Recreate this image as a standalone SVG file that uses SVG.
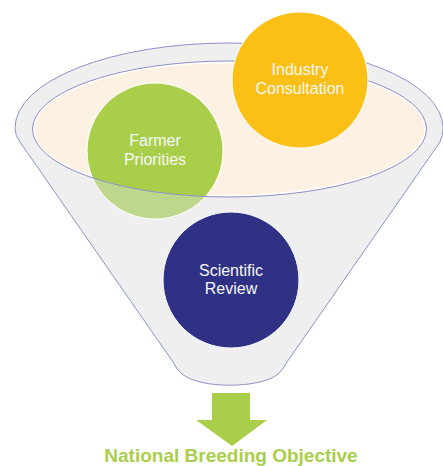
<svg xmlns="http://www.w3.org/2000/svg" width="443" height="466" viewBox="0 0 443 466">
  <style>
    .label { font-family: "Liberation Sans", Arial, sans-serif; font-size: 16px; fill: #F7F7F7; text-anchor: middle; }
    .outcome { font-family: "Liberation Sans", Arial, sans-serif; font-size: 19px; font-weight: bold; fill: #A9CE4A; text-anchor: middle; }
    .rim { fill: none; stroke: #8E91C9; stroke-width: 1; }
  </style>
  <defs>
    <clipPath id="mouth">
      <ellipse cx="229.5" cy="129" rx="197" ry="68"/>
    </clipPath>
  </defs>
  <rect width="443" height="466" fill="#FFFFFF"/>

  <!-- funnel body -->
  <g id="funnel">
    <path d="M 15,128 A 214 85 0 0 1 443,128 Q 443,136 440,142 L 287,362 Q 283,370 278,374 C 260,389 200,389 182,374 Q 177,370 173,362 L 20,142 Q 15,136 15,128 Z" fill="#EFEFEF" stroke="#8E91C9" stroke-width="1"/>
    <ellipse cx="229.5" cy="129" rx="197" ry="68" fill="#FDF1E3"/>
    <ellipse cx="229.5" cy="129" rx="195.5" ry="66.5" fill="none" stroke="#FFFFFF" stroke-width="1.5"/>
  </g>

  <g id="farmer-priorities">
    <circle cx="155" cy="151" r="68" fill="#BED78C" stroke="#FFFFFF" stroke-width="1"/>
    <circle cx="155" cy="151" r="68" fill="#A9CE4A" stroke="#FFFFFF" stroke-width="1" clip-path="url(#mouth)"/>
    <text class="label" x="155" y="146">Farmer</text>
    <text class="label" x="155" y="165">Priorities</text>
  </g>

  <!-- rim of funnel mouth, drawn across the green circle -->
  <ellipse class="rim" cx="229.5" cy="129" rx="197" ry="68"/>

  <g id="industry-consultation">
    <circle cx="300" cy="80" r="68" fill="#FBC015" stroke="#FFFFFF" stroke-width="1"/>
    <text class="label" x="300" y="75">Industry</text>
    <text class="label" x="300" y="94">Consultation</text>
  </g>

  <g id="scientific-review">
    <circle cx="231" cy="280" r="68" fill="#2E3184" stroke="#FFFFFF" stroke-width="1"/>
    <text class="label" x="231" y="276">Scientific</text>
    <text class="label" x="231" y="294">Review</text>
  </g>

  <g id="connectors">
    <path d="M 212,393 L 250,393 L 250,420 L 267,420 L 232,446 L 196,420 L 212,420 Z" fill="#A9CE4A"/>
  </g>

  <g id="national-breeding-objective">
    <text class="outcome" x="231" y="461.5">National Breeding Objective</text>
  </g>
</svg>
